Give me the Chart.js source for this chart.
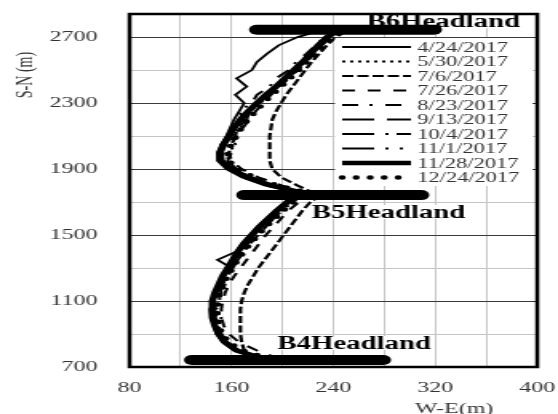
<!DOCTYPE html>
<html>
<head>
<meta charset="utf-8">
<script src="https://cdn.jsdelivr.net/npm/chart.js@4.4.0/dist/chart.umd.min.js"></script>
<style>
body { margin: 0; background: #fff; }
</style>
</head>
<body>
<canvas id="chartShoreline" width="349" height="414" style="width:558px;height:414px;display:block"></canvas>
<script>
// survey dates
var dates = ['4/24/2017', '5/30/2017', '7/6/2017', '7/26/2017', '8/23/2017',
             '9/13/2017', '10/4/2017', '11/1/2017', '11/28/2017', '12/24/2017'];

// S-N positions (m) of the two bays: B4-B5 and B5-B6
var ySouth = [750, 800, 850, 900, 950, 1000, 1050, 1100, 1150, 1200, 1250,
              1300, 1350, 1400, 1450, 1500, 1550, 1600, 1650, 1700, 1740];
var yNorth = [1750, 1800, 1850, 1900, 1950, 2000, 2050, 2100, 2150, 2200, 2250,
              2300, 2350, 2400, 2450, 2500, 2550, 2600, 2650, 2700, 2745];

// W-E shoreline position (m), one row per date
var xSouth = [
    [182, 162, 153, 148, 146, 144, 143, 146, 148, 151, 154, 160, 149, 164, 168, 174, 180, 187, 194, 202, 210],
    [188, 166, 156, 152, 150, 152, 148, 151, 150, 155, 154, 160, 162, 169, 171, 178, 185, 191, 199, 207, 215],
    [178, 170, 168, 167, 167, 167, 167, 168, 170, 173, 177, 181, 186, 191, 196, 201, 206, 211, 216, 222, 230],
    [198, 180, 166, 158, 154, 152, 152, 153, 155, 158, 162, 167, 172, 177, 182, 187, 193, 199, 205, 213, 222],
    [186, 163, 153, 149, 151, 147, 150, 146, 152, 150, 157, 156, 164, 166, 173, 177, 184, 190, 198, 206, 214],
    [184, 165, 156, 151, 148, 146, 146, 146, 148, 151, 154, 158, 162, 166, 171, 177, 183, 190, 197, 205, 213],
    [187, 166, 157, 152, 149, 147, 147, 148, 150, 153, 157, 161, 165, 170, 175, 181, 187, 193, 200, 208, 216],
    [183, 163, 154, 149, 147, 145, 144, 145, 147, 150, 153, 157, 161, 165, 170, 176, 182, 188, 196, 204, 212],
    [185, 164, 155, 150, 147, 145, 145, 145, 147, 150, 153, 157, 161, 165, 170, 176, 182, 189, 196, 204, 212],
    [190, 168, 158, 153, 150, 149, 149, 149, 151, 154, 157, 161, 165, 170, 175, 181, 187, 194, 201, 209, 217]
];
var xNorth = [
    [216, 186, 168, 156, 149, 149, 152, 156, 159, 162, 166, 170, 163, 172, 164, 176, 180, 188, 197, 212, 232],
    [222, 193, 175, 163, 157, 158, 163, 160, 168, 166, 175, 180, 188, 194, 203, 208, 217, 222, 230, 236, 245],
    [226, 212, 199, 192, 190, 190, 190, 190, 191, 192, 195, 199, 203, 208, 213, 218, 223, 229, 235, 242, 252],
    [224, 200, 181, 168, 160, 158, 160, 164, 169, 174, 179, 185, 191, 198, 205, 212, 219, 225, 231, 238, 248],
    [219, 189, 170, 158, 153, 156, 152, 160, 163, 170, 166, 176, 180, 190, 195, 205, 211, 219, 226, 233, 242],
    [220, 191, 173, 161, 153, 152, 155, 159, 163, 168, 174, 181, 188, 196, 203, 210, 217, 223, 229, 235, 244],
    [221, 194, 176, 164, 157, 160, 157, 163, 165, 172, 174, 183, 188, 198, 203, 212, 217, 224, 230, 237, 246],
    [218, 190, 171, 159, 152, 151, 154, 158, 162, 167, 173, 179, 186, 194, 201, 208, 215, 221, 228, 234, 243],
    [220, 191, 172, 160, 152, 151, 154, 158, 162, 167, 173, 180, 187, 195, 202, 209, 216, 222, 228, 235, 244],
    [224, 196, 178, 165, 158, 157, 160, 164, 168, 173, 179, 185, 192, 199, 206, 213, 219, 226, 232, 239, 248]
];

// headlands
var headlandNames = ['B4Headland', 'B5Headland', 'B6Headland'];
var headlandY = [742, 1742, 2745];
var headlandXStart = [129, 170, 180];
var headlandXEnd = [279, 309, 319];
var headlandLabelX = [196, 223, 266];
var headlandLabelY = [809, 1603, 2760];

// axes
var xTicks = [80, 120, 160, 200, 240, 280, 320, 360, 400];
var xLabels = [80, 160, 240, 320, 400];
var yTicks = [700, 900, 1100, 1300, 1500, 1700, 1900, 2100, 2300, 2500, 2700];
var yLabels = [700, 1100, 1500, 1900, 2300, 2700];

// line styles per date
var dashes = [[], [2, 3], [7, 2.5], [8, 8], [10, 7, 2, 8], [20, 8], [20, 7, 2, 5, 9, 7], [20, 7, 2, 7, 2, 7], [], [0, 8.75]];
var widths = [1.8, 2, 2.2, 2, 2, 2, 2, 2, 4.5, 4.5];
var caps = ['butt', 'butt', 'butt', 'butt', 'butt', 'butt', 'butt', 'butt', 'butt', 'round'];

Chart.defaults.font.family = "'Liberation Serif', 'Times New Roman', serif";

var datasets = [];
headlandNames.forEach(function(name, i) {
    datasets.push({
        label: name,
        data: [{x: headlandXStart[i], y: headlandY[i]}, {x: headlandXEnd[i], y: headlandY[i]}],
        showLine: true,
        borderColor: '#000',
        borderWidth: 10,
        borderCapStyle: 'round',
        pointRadius: 0
    });
});
dates.forEach(function(d, i) {
    var pts = [];
    ySouth.forEach(function(y, j) { pts.push({x: xSouth[i][j], y: y}); });
    pts.push({x: null, y: null});
    yNorth.forEach(function(y, j) { pts.push({x: xNorth[i][j], y: y}); });
    datasets.push({
        label: d,
        data: pts,
        showLine: true,
        spanGaps: false,
        borderColor: '#000',
        borderWidth: widths[i],
        borderDash: dashes[i],
        borderCapStyle: caps[i],
        pointRadius: 0,
        tension: 0
    });
});

function noPadding(scale) {
    scale.paddingTop = 0;
    scale.paddingBottom = 0;
    scale.paddingLeft = 0;
    scale.paddingRight = 0;
}

var decorations = {
    id: 'decorations',
    beforeDraw: function(chart) {
        var ctx = chart.ctx;
        ctx.save();
        ctx.fillStyle = '#fff';
        ctx.fillRect(0, 0, chart.width, chart.height);
        ctx.restore();
    },
    beforeDatasetsDraw: function(chart) {
        var ctx = chart.ctx, xs = chart.scales.x, ys = chart.scales.y;
        ctx.save();
        ctx.font = 'bold 18px "Liberation Serif"';
        ctx.fillStyle = '#fff';
        headlandNames.forEach(function(name, i) {
            var x = xs.getPixelForValue(headlandLabelX[i]);
            var y = ys.getPixelForValue(headlandLabelY[i]);
            var w = ctx.measureText(name).width;
            ctx.fillRect(x - 1, y - 13, w + 2, 14);
        });
        ctx.restore();
    },
    afterDatasetsDraw: function(chart) {
        var ctx = chart.ctx, a = chart.chartArea, xs = chart.scales.x, ys = chart.scales.y;
        ctx.save();
        ctx.font = 'bold 18px "Liberation Serif"';
        ctx.fillStyle = '#000';
        ctx.textBaseline = 'alphabetic';
        headlandNames.forEach(function(name, i) {
            ctx.fillText(name, xs.getPixelForValue(headlandLabelX[i]), ys.getPixelForValue(headlandLabelY[i]));
        });
        // legend
        ctx.fillStyle = '#fff';
        ctx.fillRect(209.5, 38, a.right - 212.5, 148);
        dates.forEach(function(d, i) {
            var y = 47 + i * 14.5;
            ctx.beginPath();
            ctx.setLineDash(dashes[i]);
            ctx.lineWidth = widths[i];
            ctx.lineCap = caps[i];
            ctx.strokeStyle = '#000';
            ctx.moveTo(214, y);
            ctx.lineTo(257, y);
            ctx.stroke();
            ctx.setLineDash([]);
            ctx.fillStyle = '#333';
            ctx.font = '14px "Liberation Serif"';
            ctx.textBaseline = 'middle';
            ctx.fillText(d, 261, y + 1);
        });
        ctx.restore();
    },
    afterDraw: function(chart) {
        var ctx = chart.ctx, a = chart.chartArea, ys = chart.scales.y;
        ctx.save();
        ctx.strokeStyle = '#000';
        ctx.lineWidth = 2.5;
        ctx.strokeRect(a.left, a.top, a.right - a.left, a.bottom - a.top);
        ctx.fillStyle = '#333';
        ctx.font = '15px "Liberation Serif"';
        ctx.textAlign = 'center';
        ctx.textBaseline = 'alphabetic';
        ctx.fillText('W-E(m)', 284, 413);
        ctx.translate(16, ys.getPixelForValue(2470));
        ctx.rotate(-Math.PI / 2);
        ctx.textBaseline = 'middle';
        ctx.font = '14px "Liberation Serif"';
        ctx.fillText('S-N (m)', 0, 0);
        ctx.restore();
    }
};

var chart = new Chart(document.getElementById('chartShoreline').getContext('2d'), {
    type: 'scatter',
    data: { datasets: datasets },
    options: {
        responsive: false,
        devicePixelRatio: 1,
        animation: false,
        layout: { padding: { top: 14, right: 13, left: 0, bottom: 0 } },
        plugins: { legend: { display: false }, tooltip: { enabled: false }, title: { display: false } },
        scales: {
            x: {
                type: 'linear', min: 80, max: 400,
                afterBuildTicks: function(scale) { scale.ticks = xTicks.map(function(v) { return {value: v}; }); },
                afterFit: function(scale) { scale.height = 47; noPadding(scale); },
                grid: { color: '#c6c6c6', lineWidth: 1, drawTicks: false },
                border: { display: false },
                ticks: {
                    autoSkip: false, maxRotation: 0, padding: 12, color: '#333', font: { size: 15 },
                    callback: function(v) { return xLabels.indexOf(v) >= 0 ? String(v) : ''; }
                }
            },
            y: {
                type: 'linear', min: 700, max: 2840,
                afterBuildTicks: function(scale) { scale.ticks = yTicks.map(function(v) { return {value: v}; }); },
                afterFit: function(scale) { scale.width = 81; noPadding(scale); },
                grid: {
                    drawTicks: false, lineWidth: 1,
                    color: function(c) { return c.tick && yLabels.indexOf(c.tick.value) >= 0 ? '#3a3a3a' : '#c6c6c6'; }
                },
                border: { display: false },
                ticks: {
                    autoSkip: false, padding: 20, color: '#333', font: { size: 15 },
                    callback: function(v) { return yLabels.indexOf(v) >= 0 ? String(v) : ''; }
                }
            }
        }
    },
    plugins: [decorations]
});
</script>
</body>
</html>
